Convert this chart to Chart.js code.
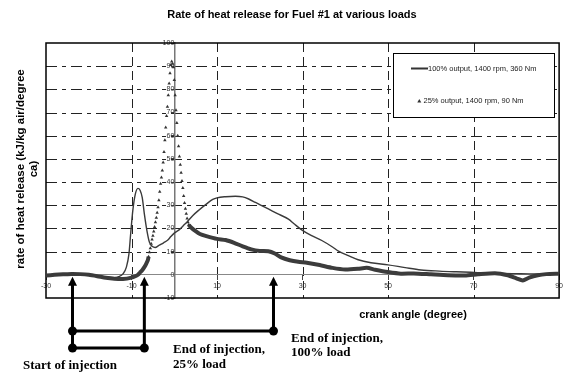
<!DOCTYPE html>
<html>
<head>
<meta charset="utf-8">
<script src="https://cdn.jsdelivr.net/npm/chart.js@4/dist/chart.umd.min.js"></script>
<style>
  html, body { margin: 0; padding: 0; background: #fff; }
</style>
</head>
<body>
<canvas id="rohrChart" width="565" height="372"></canvas>
<script>
// Rate of heat release, Fuel #1
const chartTitle = "Rate of heat release for Fuel #1 at various loads";
const xTitle = "crank angle (degree)";
const yTitle = ["rate of heat release (kJ/kg air/degree", "ca)"];
const seriesLabels = ["100% output, 1400 rpm, 360 Nm", "25% output, 1400 rpm, 90 Nm"];

const xTicks = [-30, -10, 10, 30, 50, 70, 90];
const xGrid = [-10, 10, 30, 50, 70];
const yGrid = [10, 20, 30, 40, 50, 60, 70, 80, 90];

// 100% load (solid line)
const fullAngle = [-30, -28, -26, -24, -22, -20, -18, -16, -14, -13,
  -12, -11.2, -10.6, -10.2, -9.7, -9.1, -8.5, -8.0, -7.5, -7.0,
  -6.4, -5.8, -5.1, -4.5, -3.5, -2.5, -1.5, -0.8, 0, 1.2,
  2, 3.1, 4.3, 5.8, 7.5, 9, 10, 12, 14.3, 16,
  17.4, 19, 22, 24, 26.7, 28, 29.8, 32, 34.5, 37,
  38.4, 40.7, 43, 46, 50, 54, 57.7, 62, 66, 69.3,
  73, 77, 80, 83, 86, 90];
const fullRate = [0, 0.1, 0.2, 0.3, 0.2, 0, -0.4, -0.9, -1.2, -0.8,
  0.4, 3.3, 9, 17.7, 27.7, 34.9, 37.3, 36.5, 33.4, 26.3,
  19.1, 14, 12.2, 11.8, 12.8, 13.8, 15, 16.5, 18, 19.5,
  21, 23, 25.5, 28, 30.5, 32.5, 33.2, 33.7, 33.9, 33.6,
  32.7, 31.2, 28.4, 26.5, 24, 22, 19.4, 17, 14.8, 12,
  10.2, 8.3, 6.5, 5.2, 4.3, 3.1, 2.1, 1.6, 1.3, 1.1,
  0.8, 0.6, 0.5, 0.4, 0.4, 0.3];

// 25% load (triangle markers, dense enough to read as a thick line)
const partAngle = [-30, -28, -26, -24, -22, -20, -18, -16, -14, -12,
  -10, -9, -8.5, -8, -7.5, -7, -6.6, -6.2,
  -6.0, -5.8, -5.6, -5.4, -5.2, -5.0, -4.8, -4.6, -4.4, -4.2,
  -4.0, -3.8, -3.6, -3.4, -3.2, -3.0, -2.8, -2.6, -2.4, -2.2,
  -2.0, -1.8, -1.6, -1.4, -1.2, -1.0, -0.8, -0.6, -0.4, -0.2,
  0.0, 0.2, 0.4, 0.6, 0.8, 1.0, 1.2, 1.4, 1.6, 1.8,
  2.0, 2.2, 2.4, 2.6, 2.8, 3.0, 3.2, 3.4,
  4, 5, 6, 7.5, 10, 12, 14, 16, 18, 20,
  22, 23.5, 25, 27, 29, 31, 34, 37, 40, 43,
  45, 47, 50, 53, 56, 60, 64, 68, 71, 75,
  78, 80, 81.5, 83, 85, 87, 90];
const partRate = [-0.3, 0, 0.2, 0.4, 0.3, 0, -0.6, -1.3, -1.7, -1.8,
  -1.2, -0.5, 0, 1, 2, 3.3, 4.6, 6.2,
  7.8, 9.7, 11.5, 13.4, 15.2, 16.9, 18.7, 20.6, 22.7, 24.6,
  26.8, 29.2, 32.2, 35.8, 39.3, 42, 45, 48.5, 53, 58,
  63.5, 68.5, 72.5, 77.5, 82.5, 87, 90.5, 92, 91, 89.5,
  84, 77.5, 71, 65.5, 60, 55.5, 51, 47.5, 44, 40.5,
  37.5, 34, 31, 28.5, 26.3, 24.3, 22.7, 21.6,
  20.3, 18.8, 17.6, 16.7, 15.5, 15, 13.8, 12.3, 11, 10.3,
  10.2, 9.2, 7.5, 6.3, 5.6, 5.2, 4.2, 3.0, 2.3, 2.6,
  3.0, 2.2, 1.2, 0.5, 0.6, 0.2, -0.2, -0.3, 0.2, 0.7,
  -0.2, -1.5, -2.4, -1.2, -0.2, 0.3, 0.5];

// injection events: start, end at 25% load, end at 100% load
const injStart = -23.8;
const injEnd25 = -7;
const injEnd100 = 23.2;

const toPoints = (xs, ys) => xs.map((x, i) => ({ x: x, y: ys[i] }));
// the steep part of the 25% curve where single markers are visible
const inPeak = x => x > -6.1 && x < 3.5;

const gridPlugin = {
  id: "gridPlugin",
  beforeDraw(chart) {
    const { ctx, chartArea: a, scales: { x, y } } = chart;
    ctx.save();
    ctx.fillStyle = "#fff";
    ctx.fillRect(0, 0, chart.width, chart.height);
    ctx.strokeStyle = "#222";
    ctx.lineWidth = 1;
    ctx.setLineDash([9, 5]);
    xGrid.forEach(v => {
      const px = Math.round(x.getPixelForValue(v)) + 0.5;
      ctx.beginPath(); ctx.moveTo(px, a.top); ctx.lineTo(px, a.bottom); ctx.stroke();
    });
    ctx.setLineDash([11, 5, 4, 5]);
    yGrid.forEach(v => {
      const py = Math.round(y.getPixelForValue(v)) + 0.5;
      ctx.beginPath(); ctx.moveTo(a.left, py); ctx.lineTo(a.right, py); ctx.stroke();
    });
    ctx.restore();
  },
  beforeDatasetsDraw(chart) {
    const { ctx, chartArea: a } = chart;
    ctx.save();
    ctx.strokeStyle = "#000";
    ctx.lineWidth = 1.5;
    ctx.strokeRect(a.left, a.top, a.right - a.left, a.bottom - a.top);
    ctx.restore();
  }
};

const notesPlugin = {
  id: "notesPlugin",
  afterDraw(chart) {
    const { ctx, scales: { x, y } } = chart;
    ctx.save();

    // titles
    ctx.fillStyle = "#000";
    ctx.font = "bold 11px 'Liberation Sans', Arial, sans-serif";
    ctx.textAlign = "center";
    ctx.textBaseline = "alphabetic";
    ctx.fillText(chartTitle, 292, 18);
    ctx.fillText(xTitle, 413, 318);
    ctx.save();
    ctx.translate(24, 169);
    ctx.rotate(-Math.PI / 2);
    ctx.font = "bold 11.5px 'Liberation Sans', Arial, sans-serif";
    ctx.fillText(yTitle[0], 0, 0);
    ctx.fillText(yTitle[1], 0, 13);
    ctx.restore();

    // legend box
    const lx = 393, ly = 53, lw = 161, lh = 64;
    ctx.fillStyle = "#fff";
    ctx.fillRect(lx, ly, lw, lh);
    ctx.strokeStyle = "#000";
    ctx.lineWidth = 1;
    ctx.strokeRect(lx + 0.5, ly + 0.5, lw, lh);
    ctx.strokeStyle = "#333";
    ctx.lineWidth = 2;
    ctx.beginPath(); ctx.moveTo(411, 68.5); ctx.lineTo(428, 68.5); ctx.stroke();
    ctx.fillStyle = "#333";
    ctx.beginPath(); ctx.moveTo(419.3, 99); ctx.lineTo(421.3, 102.5); ctx.lineTo(417.3, 102.5); ctx.closePath(); ctx.fill();
    ctx.fillStyle = "#222";
    ctx.font = "7.5px 'Liberation Sans', Arial, sans-serif";
    ctx.textAlign = "left";
    ctx.textBaseline = "middle";
    ctx.fillText(seriesLabels[0], 428, 68.5);
    ctx.fillText(seriesLabels[1], 423.5, 101);

    // injection markers
    const x1 = x.getPixelForValue(injStart);
    const x2 = x.getPixelForValue(injEnd25);
    const x3 = x.getPixelForValue(injEnd100);
    const tip = y.getPixelForValue(0) + 2;
    const rowA = 331, rowB = 348;
    ctx.strokeStyle = "#000";
    ctx.fillStyle = "#000";
    ctx.lineWidth = 3;
    const arrow = (px, bottom) => {
      ctx.beginPath(); ctx.moveTo(px, tip + 7); ctx.lineTo(px, bottom); ctx.stroke();
      ctx.beginPath(); ctx.moveTo(px, tip); ctx.lineTo(px + 4.5, tip + 9); ctx.lineTo(px - 4.5, tip + 9); ctx.closePath(); ctx.fill();
    };
    arrow(x1, rowB);
    arrow(x2, rowB);
    arrow(x3, rowA);
    ctx.beginPath(); ctx.moveTo(x1, rowA); ctx.lineTo(x3, rowA); ctx.stroke();
    ctx.beginPath(); ctx.moveTo(x1, rowB); ctx.lineTo(x2, rowB); ctx.stroke();
    [[x1, rowA], [x1, rowB], [x2, rowB], [x3, rowA]].forEach(([cx, cy]) => {
      ctx.beginPath(); ctx.arc(cx, cy, 4.5, 0, Math.PI * 2); ctx.fill();
    });

    ctx.font = "bold 13px 'Liberation Serif', 'Times New Roman', serif";
    ctx.textAlign = "left";
    ctx.textBaseline = "alphabetic";
    ctx.fillText("Start of injection", 23, 369);
    ctx.fillText("End of injection,", 173, 353);
    ctx.fillText("25% load", 173, 368);
    ctx.fillText("End of injection,", 291, 342);
    ctx.fillText("100% load", 291, 356);
    ctx.restore();
  }
};

const tickFont = { family: "'Liberation Sans', Arial, sans-serif", size: 7 };

new Chart(document.getElementById("rohrChart").getContext("2d"), {
  type: "line",
  data: {
    datasets: [{
      label: seriesLabels[0],
      data: toPoints(fullAngle, fullRate),
      borderColor: "#3a3a3a",
      borderWidth: 1.4,
      pointRadius: 0,
      cubicInterpolationMode: "monotone"
    }, {
      label: seriesLabels[1],
      data: toPoints(partAngle, partRate),
      borderColor: "#3c3c3c",
      borderWidth: 4,
      tension: 0.2,
      pointStyle: "triangle",
      pointRadius: ctx => inPeak(ctx.parsed.x) ? 2 : 0,
      pointBackgroundColor: "#333",
      pointBorderWidth: 0,
      segment: {
        borderColor: ctx => inPeak(ctx.p0.parsed.x) && inPeak(ctx.p1.parsed.x) ? "rgba(0,0,0,0)" : "#3c3c3c"
      }
    }]
  },
  options: {
    responsive: false,
    animation: false,
    layout: { padding: { left: 46, right: 3, top: 43, bottom: 74 } },
    plugins: {
      legend: { display: false },
      title: { display: false },
      tooltip: { enabled: false }
    },
    scales: {
      x: {
        type: "linear",
        position: { y: 0 },
        min: -30,
        max: 90,
        afterBuildTicks: scale => { scale.ticks = xTicks.map(v => ({ value: v })); },
        ticks: { font: tickFont, color: "#333", padding: 2, maxRotation: 0 },
        grid: { drawOnChartArea: false, drawTicks: true, tickLength: 5, color: "#444" },
        border: { display: true, color: "#888", width: 1 }
      },
      y: {
        type: "linear",
        position: { x: 0 },
        min: -10,
        max: 100,
        ticks: { stepSize: 10, font: tickFont, color: "#333", padding: 2 },
        grid: { drawOnChartArea: false, drawTicks: true, tickLength: 3, color: "#444" },
        border: { display: true, color: "#777", width: 1.5 }
      }
    }
  },
  plugins: [gridPlugin, notesPlugin]
});
</script>
</body>
</html>
